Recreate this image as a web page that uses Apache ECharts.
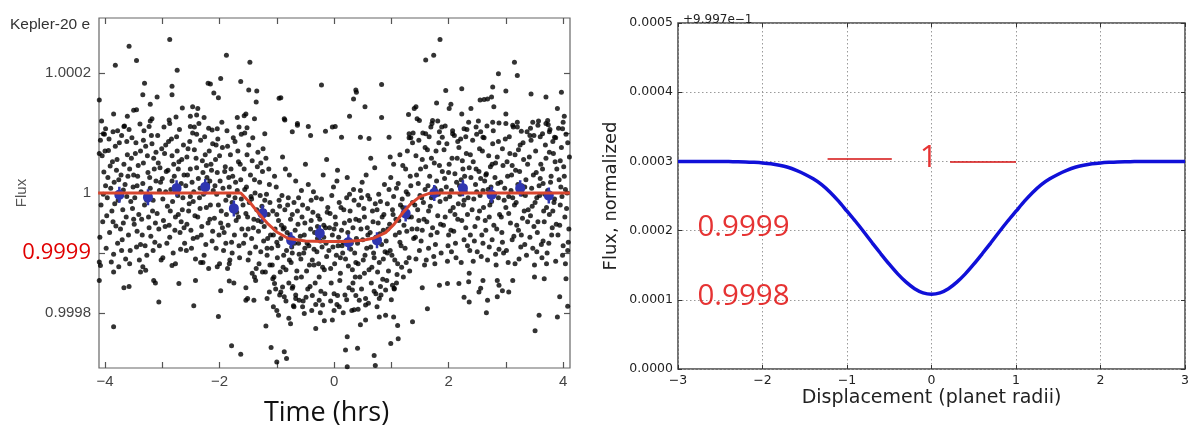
<!DOCTYPE html>
<html>
<head>
<meta charset="utf-8">
<script src="https://cdn.jsdelivr.net/npm/echarts@6/dist/echarts.min.js"></script>
<style>
html,body{margin:0;padding:0;background:#fff}
#chart{width:1192px;height:433px}
</style>
</head>
<body>
<div id="chart"></div>
<script>
// Kepler-20 e: individual photometric samples, as pairs of
// (hours from mid-transit, flux deviation in parts per million)
const samplesPpm = [
-4.08,88,-4.05,62,-4.02,35,-3.99,12,-3.96,-8,-3.94,71,-3.91,45,-3.88,-30,-3.86,102,-3.84,18,-3.81,-55,-3.79,56,-3.77,-12,-3.75,84,-3.72,30,-3.70,-78,-3.68,5,-3.66,112,-3.63,-40,-3.61,64,
-4.07,-20,-4.04,-48,-4.01,98,-3.98,-92,-3.95,26,-3.92,-66,-3.90,8,-3.87,52,-3.85,-102,-3.83,-18,-3.80,38,-3.78,-84,-3.76,22,-3.73,-60,-3.71,96,-3.69,-28,-3.67,48,-3.64,-110,-3.62,-6,-3.60,28,
-4.09,-74,-4.06,120,-4.03,-2,-4.00,70,-3.97,-38,-3.93,90,-3.89,-115,-3.86,-48,-3.82,78,-3.78,104,-3.74,-4,-3.71,-96,-3.68,-50,-3.65,14,-3.62,86,
-3.59,-70,-3.57,40,-3.55,-14,-3.53,92,-3.51,10,-3.49,-52,-3.47,66,-3.45,-90,-3.43,28,-3.41,-36,-3.39,115,-3.37,2,-3.35,-70,-3.33,50,-3.31,-20,-3.29,78,-3.27,-104,-3.25,34,-3.23,-58,-3.21,8,-3.19,96,-3.17,-30,-3.15,58,-3.13,-82,-3.11,20,
-3.58,106,-3.56,-96,-3.54,58,-3.52,-26,-3.50,30,-3.48,-8,-3.46,84,-3.44,-64,-3.42,46,-3.40,-112,-3.38,70,-3.36,-44,-3.34,16,-3.32,104,-3.30,-88,-3.28,-4,-3.26,62,-3.24,-40,-3.22,26,-3.20,-72,-3.18,82,-3.16,-12,-3.14,40,-3.12,-50,
-3.57,-118,-3.50,-44,-3.44,12,-3.38,-86,-3.33,88,-3.27,-12,-3.21,120,-3.16,-96,-3.11,68,
-3.09,-34,-3.07,50,-3.05,-88,-3.03,18,-3.01,74,-2.99,-10,-2.97,110,-2.95,-56,-2.93,36,-2.91,-22,-2.89,86,-2.87,-74,-2.85,6,-2.83,62,-2.81,-100,-2.79,28,-2.77,-40,-2.75,94,-2.73,-4,-2.71,52,-2.69,-66,-2.67,16,-2.65,-28,-2.63,80,-2.61,-84,
-3.08,96,-3.06,-60,-3.04,42,-3.02,-112,-3.00,24,-2.98,-46,-2.96,66,-2.94,2,-2.92,-84,-2.90,38,-2.88,122,-2.86,-30,-2.84,90,-2.82,-14,-2.80,48,-2.78,-62,-2.76,10,-2.74,70,-2.72,-36,-2.70,106,-2.68,-94,-2.66,56,-2.64,-8,-2.62,30,
-3.05,4,-2.99,-108,-2.94,80,-2.88,-54,-2.83,20,-2.77,-118,-2.72,40,-2.67,-48,-2.62,-58,
-2.59,12,-2.57,-52,-2.55,74,-2.53,-18,-2.51,40,-2.49,-92,-2.47,100,-2.45,2,-2.43,-38,-2.41,58,-2.39,-74,-2.37,24,-2.35,-8,-2.33,88,-2.31,-56,-2.29,34,-2.27,-104,-2.25,64,-2.23,-24,-2.21,14,-2.19,108,-2.17,-44,-2.15,48,-2.13,-80,-2.11,4,
-2.58,-96,-2.56,30,-2.54,-30,-2.52,86,-2.50,-62,-2.48,18,-2.46,-14,-2.44,72,-2.42,-110,-2.40,42,-2.38,-40,-2.36,116,-2.34,8,-2.32,-70,-2.30,54,-2.28,-2,-2.26,94,-2.24,-86,-2.22,26,-2.20,-50,-2.18,70,-2.16,-20,-2.14,38,-2.12,-64,
-2.57,60,-2.51,-6,-2.46,-76,-2.40,98,-2.34,-26,-2.29,-116,-2.23,46,-2.17,20,-2.12,82,
-2.09,-42,-2.07,56,-2.05,-2,-2.03,90,-2.01,-70,-1.99,20,-1.97,-30,-1.95,76,-1.93,-96,-1.91,36,-1.89,-12,-1.87,104,-1.85,-54,-1.83,10,-1.81,64,-1.79,-82,-1.77,28,-1.75,-24,-1.73,86,-1.71,-46,-1.69,4,-1.67,52,-1.65,-108,-1.63,22,-1.61,-60,
-2.08,12,-2.06,-92,-2.04,34,-2.02,-20,-2.00,62,-1.98,-50,-1.96,118,-1.94,8,-1.92,-66,-1.90,44,-1.88,-36,-1.86,78,-1.84,-4,-1.82,-112,-1.80,40,-1.78,-16,-1.76,92,-1.74,-70,-1.72,18,-1.70,-32,-1.68,70,-1.66,-88,-1.64,48,-1.62,-10,
-2.06,80,-2.00,-118,-1.95,-58,-1.89,-84,-1.84,26,-1.78,-100,-1.73,-8,-1.67,-40,-1.62,98,
-1.59,-20,-1.57,40,-1.55,-70,-1.53,10,-1.51,-40,-1.49,80,-1.47,-100,-1.45,-6,-1.43,54,-1.41,-58,-1.39,22,-1.37,-90,-1.35,-28,-1.33,68,-1.31,-118,-1.29,-4,-1.27,-48,-1.25,36,-1.23,-80,-1.21,-12,-1.19,58,-1.17,-104,-1.15,-36,-1.13,14,-1.11,-70,
-1.58,-84,-1.56,6,-1.54,-34,-1.52,64,-1.50,-112,-1.48,-16,-1.46,30,-1.44,-76,-1.42,92,-1.40,-44,-1.38,0,-1.36,-126,-1.34,44,-1.32,-64,-1.30,18,-1.28,-98,-1.26,-22,-1.24,74,-1.22,-56,-1.20,-132,-1.18,-2,-1.16,-76,-1.14,40,-1.12,-120,
-1.56,100,-1.50,-60,-1.44,-10,-1.39,-140,-1.33,-46,-1.28,50,-1.22,-30,-1.17,-92,-1.12,-16,
-1.09,-92,-1.07,-30,-1.05,-140,-1.03,-60,-1.01,10,-0.99,-108,-0.97,-46,-0.95,-170,-0.93,-76,-0.91,-4,-0.89,-124,-0.87,-58,-0.85,40,-0.83,-96,-0.81,-20,-0.79,-150,-0.77,-70,-0.75,-116,-0.73,-36,-0.71,-188,-0.69,-84,-0.67,20,-0.65,-130,-0.63,-52,-0.61,-102,
-1.08,-120,-1.06,-70,-1.04,28,-1.02,-160,-1.00,-36,-0.98,-88,-0.96,-12,-0.94,-132,-0.92,-54,-0.90,60,-0.88,-104,-0.86,-28,-0.84,-180,-0.82,-66,-0.80,-8,-0.78,-112,-0.76,-44,-0.74,-90,-0.72,-156,-0.70,-16,-0.68,-62,-0.66,-142,-0.64,-30,-0.62,-84,
-1.06,-190,-1.00,-82,-0.95,-22,-0.89,-60,-0.84,-128,-0.78,30,-0.73,-100,-0.67,-176,-0.62,-8,
-0.59,-72,-0.57,-140,-0.55,-20,-0.53,-100,-0.51,-50,-0.49,-174,-0.47,-84,-0.45,14,-0.43,-120,-0.41,-60,-0.39,-196,-0.37,-32,-0.35,-94,-0.33,-150,-0.31,-8,-0.29,-76,-0.27,-118,-0.25,-44,-0.23,-164,-0.21,-90,-0.19,30,-0.17,-128,-0.15,-58,-0.13,-106,-0.11,-24,
-0.58,-110,-0.56,-40,-0.54,-180,-0.52,-70,-0.50,48,-0.48,-130,-0.46,-26,-0.44,-88,-0.42,-156,-0.40,-46,-0.38,-112,-0.36,2,-0.34,-66,-0.32,-186,-0.30,-98,-0.28,-38,-0.26,-140,-0.24,-80,-0.22,-10,-0.20,-124,-0.18,-54,-0.16,-168,-0.14,-84,-0.12,-32,
-0.57,4,-0.51,-92,-0.46,-160,-0.40,-12,-0.35,-120,-0.29,-56,-0.24,-200,-0.18,-74,-0.13,56,
-0.09,-96,-0.07,-34,-0.05,-150,-0.03,-70,-0.01,10,0.01,-118,0.03,-52,0.05,-186,0.07,-88,0.09,-16,0.11,-134,0.13,-62,0.15,-100,0.17,-28,0.19,-170,0.21,-80,0.23,26,0.25,-122,0.27,-46,0.29,-94,0.31,-196,0.33,-58,0.35,-12,0.37,-140,0.39,-76,
-0.08,-58,-0.06,-126,-0.04,-4,-0.02,-90,0.00,-168,0.02,-40,0.04,-104,0.06,38,0.08,-74,0.10,-146,0.12,-24,0.14,-88,0.16,-200,0.18,-50,0.20,-110,0.22,-8,0.24,-66,0.26,-158,0.28,-30,0.30,-84,0.32,-128,0.34,6,0.36,-100,0.38,-44,
-0.06,-180,0.00,-60,0.05,20,0.11,-108,0.16,-82,0.22,-178,0.27,-2,0.33,-150,0.38,-116,
0.41,-84,0.43,-20,0.45,-140,0.47,-60,0.49,18,0.51,-112,0.53,-40,0.55,-176,0.57,-92,0.59,-4,0.61,-128,0.63,-66,0.65,-150,0.67,-30,0.69,-100,0.71,42,0.73,-74,0.75,-190,0.77,-50,0.79,-116,0.81,-14,0.83,-86,0.85,-144,0.87,-36,0.89,-98,
0.42,-118,0.44,-46,0.46,4,0.48,-160,0.50,-78,0.52,-26,0.54,-104,0.56,30,0.58,-58,0.60,-184,0.62,-10,0.64,-90,0.66,-124,0.68,-48,0.70,-164,0.72,-18,0.74,-82,0.76,-132,0.78,-2,0.80,-68,0.82,-170,0.84,-40,0.86,-110,0.88,14,
0.42,-194,0.48,-8,0.53,-134,0.59,-70,0.64,58,0.70,-108,0.75,-28,0.81,-156,0.86,-62,
0.91,-80,0.93,-18,0.95,-130,0.97,-52,0.99,26,1.01,-104,1.03,-36,1.05,-160,1.07,-70,1.09,8,1.11,-118,1.13,-46,1.15,64,1.17,-88,1.19,-10,1.21,-140,1.23,-30,1.25,40,1.27,-64,1.29,-2,1.31,-108,1.33,28,1.35,-40,1.37,84,1.39,-76,
0.92,-146,0.94,-60,0.96,6,0.98,-96,1.00,-178,1.02,-28,1.04,48,1.06,-112,1.08,-44,1.10,-136,1.12,16,1.14,-66,1.16,-20,1.18,-124,1.20,46,1.22,-54,1.24,-92,1.26,2,1.28,70,1.30,-40,1.32,-130,1.34,12,1.36,-60,1.38,100,
0.93,-100,0.98,60,1.04,-6,1.09,-150,1.15,-82,1.20,-24,1.26,-116,1.31,92,1.37,-16,
1.41,-20,1.43,62,1.45,-60,1.47,16,1.49,-96,1.51,40,1.53,-8,1.55,100,1.57,-44,1.59,6,1.61,-112,1.63,72,1.65,-30,1.67,28,1.69,-70,1.71,116,1.73,-4,1.75,50,1.77,-86,1.79,20,1.81,-38,1.83,84,1.85,-14,1.87,-100,1.89,36,
1.42,-74,1.44,30,1.46,-28,1.48,88,1.50,-4,1.52,-80,1.54,56,1.56,-16,1.58,-120,1.60,44,1.62,-48,1.64,12,1.66,94,1.68,-22,1.70,58,1.72,-58,1.74,-106,1.76,8,1.78,70,1.80,-66,1.82,-2,1.84,46,1.86,-52,1.88,110,
1.43,-110,1.48,-46,1.54,-62,1.59,76,1.65,-92,1.70,-8,1.76,-118,1.81,120,1.87,4,
1.91,-54,1.93,24,1.95,-10,1.97,82,1.99,-88,2.01,48,2.03,-30,2.05,4,2.07,104,2.09,-64,2.11,32,2.13,-108,2.15,58,2.17,-18,2.19,12,2.21,90,2.23,-46,2.25,40,2.27,-78,2.29,2,2.31,66,2.33,-36,2.35,118,2.37,-96,2.39,26,
1.92,72,1.94,-40,1.96,10,1.98,-114,2.00,34,2.02,-6,2.04,-62,2.06,58,2.08,-24,2.10,96,2.12,-84,2.14,18,2.16,-44,2.18,76,2.20,-2,2.22,-116,2.24,54,2.26,-20,2.28,28,2.30,-58,2.32,106,2.34,-8,2.36,42,2.38,-70,
1.94,112,2.00,-70,2.05,-98,2.11,-36,2.16,86,2.22,22,2.27,-12,2.33,-88,2.38,64,
2.41,-28,2.43,52,2.45,-80,2.47,14,2.49,98,2.51,-42,2.53,36,2.55,-4,2.57,-106,2.59,70,2.61,-24,2.63,20,2.65,-62,2.67,112,2.69,6,2.71,-90,2.73,44,2.75,-14,2.77,82,2.79,-54,2.81,26,2.83,-120,2.85,60,2.87,-8,2.89,-36,
2.42,88,2.44,-10,2.46,-56,2.48,40,2.50,-98,2.52,120,2.54,-30,2.56,24,2.58,-70,2.60,4,2.62,92,2.64,-46,2.66,32,2.68,-112,2.70,62,2.72,-20,2.74,10,2.76,-78,2.78,104,2.80,-2,2.82,50,2.84,-60,2.86,16,2.88,-94,
2.43,-114,2.49,2,2.54,74,2.60,-84,2.65,30,2.71,-40,2.76,48,2.82,-102,2.87,86,
2.91,18,2.93,-66,2.95,46,2.97,-12,2.99,90,3.01,-96,3.03,28,3.05,-34,3.07,66,3.09,4,3.11,-78,3.13,110,3.15,-20,3.17,38,3.19,-54,3.21,14,3.23,-110,3.25,80,3.27,-2,3.29,-42,3.31,56,3.33,-86,3.35,22,3.37,102,3.39,-28,
2.92,-40,2.94,74,2.96,-100,2.98,8,3.00,-24,3.02,52,3.04,-116,3.06,94,3.08,-50,3.10,30,3.12,-8,3.14,-72,3.16,64,3.18,-16,3.20,118,3.22,-62,3.24,36,3.26,-90,3.28,12,3.30,84,3.32,-30,3.34,-4,3.36,-104,3.38,48,
2.94,-82,3.00,116,3.05,-6,3.11,46,3.16,-118,3.22,72,3.27,-70,3.33,10,3.38,-48,
3.41,60,3.43,-38,3.45,8,3.47,-92,3.49,96,3.51,-16,3.53,34,3.55,-66,3.57,120,3.59,-4,3.61,48,3.63,-108,3.65,16,3.67,-48,3.69,80,3.71,-24,3.73,4,3.75,-84,3.77,106,3.79,28,3.81,-58,3.83,66,3.85,-10,3.87,-114,3.89,40,
3.42,-74,3.44,88,3.46,-22,3.48,30,3.50,-120,3.52,70,3.54,-8,3.56,-48,3.58,12,3.60,94,3.62,-86,3.64,40,3.66,-30,3.68,-2,3.70,58,3.72,-100,3.74,114,3.76,-36,3.78,18,3.80,-70,3.82,86,3.84,-16,3.86,52,3.88,-52,
3.43,108,3.49,-56,3.54,-98,3.60,24,3.65,-80,3.71,-118,3.76,68,3.82,-30,3.87,92,
3.91,-70,3.93,22,3.95,-20,3.97,76,3.99,-104,4.01,44,4.03,-40,4.05,98,4.07,0,4.09,-82,4.11,60,
3.92,108,3.94,-54,3.96,10,3.98,-6,4.00,-88,4.02,28,4.04,-118,4.06,-26,4.08,84,4.10,-60,
3.95,54,4.00,118,4.04,6,4.08,-96
];

// Sparse high and low samples away from the main band (hours, ppm)
const outliersPpm = [
-3.82,213,-3.58,245,-3.45,221,-2.87,256,-2.74,205,-1.88,230,-1.47,218,-4.10,155,-3.31,183,-2.83,178,-2.83,164,-2.20,183,-2.16,182,-1.98,191,-1.63,186,-1.49,172,-1.35,170,-2.10,167,-2.02,159,-1.36,152,-0.96,158,-3.09,160,-3.34,164,-3.45,139,-3.50,138,-3.21,148,-3.85,132,-3.61,128,-3.67,111,-2.65,142,-2.47,144,-2.38,141,-2.51,128,-2.40,130,-3.18,124,-3.23,111,-2.87,116,-2.76,127,-2.27,126,-2.51,111,-2.44,110,-2.13,105,-2.04,107,-1.69,126,-1.57,129,-1.54,132,-1.39,124,-1.66,110,-1.52,109,-1.21,99,-0.86,122,-0.64,116,-0.73,102,-3.99,107,-4.03,99,-4.10,66,
1.85,256,1.60,222,1.74,230,3.15,218,3.20,196,2.87,199,-0.22,180,0.38,172,0.39,168,0.34,157,0.83,181,0.54,144,-0.93,159,1.95,171,2.23,174,2.77,177,3.00,170,3.44,165,3.70,160,3.97,168,1.79,150,2.04,148,2.01,141,1.43,144,1.40,141,1.30,131,2.55,155,2.62,156,2.68,157,2.75,160,2.79,144,2.39,141,2.23,132,3.90,141,4.02,128,3.73,121,3.70,116,0.27,128,0.83,126,0.02,111,-0.03,110,-0.15,103,-0.45,111,-0.41,96,-0.64,113,-0.87,124,0.13,93,0.46,93,0.61,91,0.96,93,1.72,121,1.69,110,1.45,124,1.49,121,1.31,99,1.34,92,1.60,99,1.84,102,1.89,93,2.07,99,2.27,107,2.30,94,2.48,110,2.56,102,2.60,93,2.77,118,2.88,117,3.12,113,3.20,110,3.27,103,3.47,118,3.56,113,3.00,132,3.42,96,3.64,99,3.76,102,3.85,93,3.99,107,
-3.85,-223,-3.06,-182,-2.45,-188,-2.02,-206,-1.79,-255,-1.63,-269,-1.10,-258,-0.87,-265,-0.83,-276,-1.00,-282,-1.19,-222,-0.79,-209,-0.76,-218,-4.10,-146,-3.67,-158,-3.58,-156,-3.15,-146,-3.12,-150,-2.71,-151,-2.42,-146,-1.98,-163,-1.83,-147,-1.75,-150,-1.54,-158,-1.54,-179,-1.51,-176,-1.40,-179,-1.17,-176,-1.13,-165,-0.97,-204,-1.00,-196,-4.08,-121,-4.10,-115,-3.85,-132,-3.76,-123,-3.38,-132,-3.29,-129,-3.34,-123,-2.83,-121,-2.33,-116,-2.19,-126,-2.04,-123,-1.86,-126,-1.83,-118,-1.43,-134,-1.37,-146,-1.25,-132,-1.07,-143,-1.04,-151,-0.90,-157,-0.93,-165,-0.87,-173,-0.73,-159,-0.67,-170,
1.63,-193,2.66,-200,3.51,-230,3.58,-204,3.90,-207,3.94,-173,4.08,-189,2.27,-174,2.36,-182,2.53,-165,2.68,-179,2.85,-173,2.94,-163,3.05,-165,2.18,-151,1.84,-154,1.98,-151,1.54,-158,1.37,-215,1.11,-221,1.12,-243,0.99,-251,0.70,-271,0.72,-288,0.41,-259,0.23,-240,0.20,-262,0.23,-290,-0.03,-212,-0.17,-213,-0.32,-226,-0.52,-201,-0.55,-190,0.46,-220,0.55,-212,0.79,-207,0.90,-204,1.04,-207,0.35,-195,0.44,-179,0.55,-187,0.73,-168,0.79,-176,0.90,-162,1.02,-154,1.05,-159,0.06,-171,0.09,-190,0.00,-196,-0.38,-171,-0.26,-179,-0.20,-187,-0.61,-179,-0.70,-190,0.32,-162,0.38,-171,3.67,-143,3.50,-140,3.12,-146,2.85,-146,2.88,-154,2.60,-146,2.56,-159,2.35,-148,2.36,-134,4.05,-143
];

// Half-hour binned averages
const binTime = [-3.75,-3.25,-2.75,-2.25,-1.75,-1.25,-0.75,-0.25,0.25,0.75,1.25,1.75,2.25,2.75,3.25,3.75];
const binPpm  = [-3,-7,8,10,-26,-34,-79,-67,-82,-79,-34,0,8,-3,8,-4];

// Transit model
const modelTime = [-4.12,-1.63,-1.45,-1.30,-1.15,-1.00,-0.80,-0.50,-0.20,0.20,0.50,0.70,0.90,1.05,1.20,1.35,1.50,1.65,1.80,4.12];
const modelPpm  = [0,0,-18,-36,-52,-65,-76,-80,-81,-81,-79,-75,-66,-52,-33,-17,-6,-1,0,0];

// Right panel: normalized flux (offset from 0.9997) vs displacement in planet radii
const displacement = [-3.0,-2.9,-2.8,-2.7,-2.6,-2.5,-2.4,-2.3,-2.2,-2.1,-2.0,-1.9,-1.8,-1.7,-1.6,-1.5,-1.4,-1.3,-1.2,-1.1,-1.0,-0.9,-0.8,-0.7,-0.6,-0.5,-0.4,-0.3,-0.2,-0.1,0.0,
0.1,0.2,0.3,0.4,0.5,0.6,0.7,0.8,0.9,1.0,1.1,1.2,1.3,1.4,1.5,1.6,1.7,1.8,1.9,2.0,2.1,2.2,2.3,2.4,2.5,2.6,2.7,2.8,2.9,3.0];
const fluxOffset = [0.000300,0.000300,0.000300,0.000300,0.000300,0.0002998,0.0002997,0.0002995,0.0002992,0.0002986,0.0002978,0.0002966,0.0002945,0.0002915,0.0002870,0.0002815,0.0002748,0.0002665,0.0002555,0.0002425,0.0002280,0.0002135,0.0001980,0.0001820,0.0001665,0.0001515,0.0001375,0.0001255,0.0001160,0.0001100,0.0001080,
0.0001100,0.0001160,0.0001255,0.0001375,0.0001515,0.0001665,0.0001820,0.0001980,0.0002135,0.0002280,0.0002425,0.0002555,0.0002665,0.0002748,0.0002815,0.0002870,0.0002915,0.0002945,0.0002966,0.0002978,0.0002986,0.0002992,0.0002995,0.0002997,0.0002998,0.000300,0.000300,0.000300,0.000300,0.000300];

// Tick positions
const timeTicks = [-4,-3,-2,-1,0,1,2,3,4];
const timeLabels = [-4,-2,0,2,4];
const fluxTicks = [0.9998,0.9999,1,1.0001,1.0002];
const fluxLabels = [0.9998,0.9999,1,1.0002];

function pairsToFlux(arr){
  const out = [];
  for (let i = 0; i < arr.length; i += 2) out.push([arr[i], 1 + arr[i+1] / 1e6]);
  return out;
}
const minus = v => (v < 0 ? '\u2212' + Math.abs(v) : String(v));

const chart = echarts.init(document.getElementById('chart'), null, {renderer: 'canvas'});

const leftTick = {show: true, inside: true, length: 6, lineStyle: {color: '#555', width: 1.2}};
const rightTick = {show: true, inside: true, length: 4, lineStyle: {color: '#333', width: 1}};
const dotted = {show: true, lineStyle: {color: '#9a9a9a', type: [1.5, 2.5], width: 1}};
const noLine = {show: false, onZero: false};

chart.setOption({
  animation: false,
  backgroundColor: '#fff',
  title: [
    {text: 'Kepler-20 e', left: 5, top: 12,
     textStyle: {fontFamily: 'Liberation Sans', fontSize: 15.5, fontWeight: 'normal', color: '#333'}},
    {text: '+9.997e\u22121', left: 678, top: 9,
     textStyle: {fontFamily: 'DejaVu Sans', fontSize: 12, fontWeight: 'normal', color: '#222'}}
  ],
  grid: [
    {left: 99, top: 18, width: 471, height: 350, show: true, borderColor: '#666', borderWidth: 1.2, containLabel: false},
    {left: 678, top: 23, width: 511, height: 346, show: true, borderColor: '#444', borderWidth: 1.5, containLabel: false}
  ],
  xAxis: [
    {gridIndex: 0, type: 'value', min: -4.105, max: 4.12, position: 'bottom',
     axisLine: noLine, splitLine: {show: false},
     axisTick: Object.assign({customValues: timeTicks}, leftTick),
     axisLabel: {customValues: timeLabels, formatter: minus, margin: 6,
                 fontFamily: 'Liberation Sans', fontSize: 15, color: '#444'},
     name: 'Time (hrs)', nameLocation: 'middle', nameGap: 32, nameMoveOverlap: false,
     nameTextStyle: {fontFamily: 'Open Sans', fontSize: 27, color: '#111', padding: [0, 16, 0, 0]}},
    {gridIndex: 0, type: 'value', min: -4.105, max: 4.12, position: 'top',
     axisLine: noLine, splitLine: {show: false}, axisLabel: {show: false},
     axisTick: Object.assign({customValues: timeTicks}, leftTick)},
    {gridIndex: 1, type: 'value', min: -3, max: 3, interval: 1, position: 'bottom',
     axisLine: noLine, splitLine: dotted, axisTick: rightTick,
     axisLabel: {formatter: minus, margin: 5, fontFamily: 'DejaVu Sans', fontSize: 12.5, color: '#222'},
     name: 'Displacement (planet radii)', nameLocation: 'middle', nameGap: 20, nameMoveOverlap: false,
     nameTextStyle: {fontFamily: 'DejaVu Sans', fontSize: 19, color: '#222'}},
    {gridIndex: 1, type: 'value', min: -3, max: 3, interval: 1, position: 'top',
     axisLine: noLine, splitLine: {show: false}, axisLabel: {show: false}, axisTick: rightTick}
  ],
  yAxis: [
    {gridIndex: 0, type: 'value', min: 0.999708, max: 1.000292, position: 'left',
     axisLine: noLine, splitLine: {show: false},
     axisTick: Object.assign({customValues: fluxTicks}, leftTick),
     axisLabel: {customValues: fluxLabels, margin: 8,
                 fontFamily: 'Liberation Sans', fontSize: 15, color: '#444',
                 formatter: v => Math.abs(v - 0.9999) < 1e-9 ? '{hl|0.9999}' : String(+v.toFixed(4)),
                 rich: {hl: {fontFamily: 'Open Sans', fontSize: 22, color: '#e00000'}}},
     name: 'Flux', nameLocation: 'middle', nameGap: 70, nameMoveOverlap: false,
     nameTextStyle: {fontFamily: 'Liberation Sans', fontSize: 15, color: '#555'}},
    {gridIndex: 0, type: 'value', min: 0.999708, max: 1.000292, position: 'right',
     axisLine: noLine, splitLine: {show: false}, axisLabel: {show: false},
     axisTick: Object.assign({customValues: fluxTicks}, leftTick)},
    {gridIndex: 1, type: 'value', min: 0, max: 0.0005, interval: 0.0001, position: 'left',
     axisLine: noLine, splitLine: dotted, axisTick: rightTick,
     axisLabel: {formatter: v => v.toFixed(4), margin: 5, fontFamily: 'DejaVu Sans', fontSize: 12.5, color: '#222'},
     name: 'Flux, normalized', nameLocation: 'middle', nameGap: 58, nameMoveOverlap: false,
     nameTextStyle: {fontFamily: 'DejaVu Sans', fontSize: 18, color: '#222'}},
    {gridIndex: 1, type: 'value', min: 0, max: 0.0005, interval: 0.0001, position: 'right',
     axisLine: noLine, splitLine: {show: false}, axisLabel: {show: false}, axisTick: rightTick}
  ],
  series: [
    {type: 'scatter', xAxisIndex: 0, yAxisIndex: 0, silent: true,
     symbol: 'circle', symbolSize: 5, itemStyle: {color: '#000'},
     data: pairsToFlux(samplesPpm).concat(pairsToFlux(outliersPpm))},
    {type: 'line', xAxisIndex: 0, yAxisIndex: 0, silent: true, symbol: 'none',
     lineStyle: {color: '#d8452e', width: 3},
     data: modelTime.map((t, i) => [t, 1 + modelPpm[i] / 1e6])},
    {type: 'scatter', xAxisIndex: 0, yAxisIndex: 0, silent: true,
     symbol: 'path://M3,0H5V3Q8,4 8,8Q8,12 5,13V16H3V13Q0,12 0,8Q0,4 3,3Z',
     symbolSize: [10, 16], itemStyle: {color: '#2f35b0', opacity: 1},
     data: binTime.map((t, i) => [t, 1 + binPpm[i] / 1e6])},
    {type: 'line', xAxisIndex: 2, yAxisIndex: 2, silent: true, symbol: 'none', smooth: 0.3,
     lineStyle: {color: '#1010d8', width: 3.5},
     data: displacement.map((d, i) => [d, fluxOffset[i]]),
     markLine: {silent: true, symbol: 'none', label: {show: false},
       lineStyle: {color: '#d41010', width: 1.6, type: 'solid'},
       data: [
         [{coord: [-1.23, 0.000304]}, {coord: [-0.47, 0.000304]}],
         [{coord: [0.22, 0.0003]}, {coord: [1.0, 0.0003]}]
       ]}},
    {type: 'scatter', xAxisIndex: 2, yAxisIndex: 2, silent: true, symbolSize: 0,
     label: {show: true, formatter: p => p.data.name, position: 'inside', align: 'left', verticalAlign: 'middle',
             fontFamily: 'Open Sans', color: '#e00000'},
     data: [
       {name: '1', value: [-0.14, 0.000304], label: {fontSize: 31}},
       {name: '0.9999', value: [-2.77, 0.000204], label: {fontSize: 29.5}},
       {name: '0.9998', value: [-2.77, 0.0001045], label: {fontSize: 29.5}}
     ]}
  ]
});
</script>
</body>
</html>
